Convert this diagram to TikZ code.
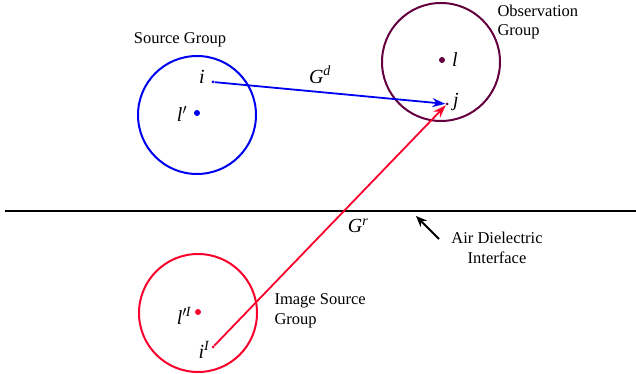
\documentclass[tikz,border=0pt]{standalone}
\usepackage{fontspec}
\setmainfont{Liberation Serif}
\usetikzlibrary{arrows.meta}
\definecolor{srcblue}{RGB}{0,0,240}
\definecolor{obspurple}{RGB}{100,0,64}
\definecolor{imgred}{RGB}{250,0,45}
\begin{document}
\begin{tikzpicture}[x=1pt,y=1pt,
  every node/.style={font=\fontsize{16.5}{19.5}\selectfont},
  grp/.style={line width=2pt},
  lbl/.style={font=\fontsize{20}{22}\selectfont\itshape},
  ctr/.style={circle,fill,inner sep=0pt,minimum size=6pt},
  pt/.style={circle,fill,inner sep=0pt,minimum size=3pt},
  ray/.style={line width=1.8pt,-{Stealth[length=13pt,width=9pt]}}]
\useasboundingbox (0,0) rectangle (636,374);
% groups
\draw[grp,srcblue] (197,259) circle (59);
\draw[grp,obspurple] (441,312) circle (59);
\draw[grp,imgred] (198,61) circle (59);
\node[ctr,srcblue] (lp) at (197,261) {};
\node[ctr,obspurple] (l) at (442,314) {};
\node[ctr,imgred] (lpI) at (198,62) {};
\node[pt,srcblue] (i) at (213,292) {};
\node[pt,obspurple] (j) at (447,270) {};
\node[pt,imgred] (iI) at (213,27) {};
\node[lbl] at (182,260) {l$'$};
\node[lbl] at (455,314) {l};
\node[lbl] at (202,297) {i};
\node[lbl] at (456,272) {j};
\node[lbl] at (184,58) {l$'$\kern-1pt\textsuperscript{I}};
\node[lbl] at (204,24) {i\textsuperscript{I}};
% interface
\draw[line width=2.8pt] (5,163) coordinate (w) -- (636,163) coordinate (e);
% rays
\draw[ray,srcblue] (i) -- (j);
\draw[ray,imgred] (iI) -- (j);
\node[lbl] at (320,299) {G\textsuperscript{d}};
\node[lbl] at (358,148) {G\textsuperscript{r}};
% captions
\node (srcgrp) at (180,334) {Source Group};
\node[anchor=west,align=left] (obsgrp) at (494,352) {Observation\\Group};
\node[anchor=west,align=left] (imggrp) at (271,63) {Image Source\\Group};
\node[align=center] (iface) at (497,126) {Air Dielectric\\Interface};
\coordinate (ifacetip) at (416,158);
\draw[line width=1.9pt,-{Stealth[length=11pt,width=9pt]}] (439,135) -- (ifacetip);
\end{tikzpicture}
\end{document}
